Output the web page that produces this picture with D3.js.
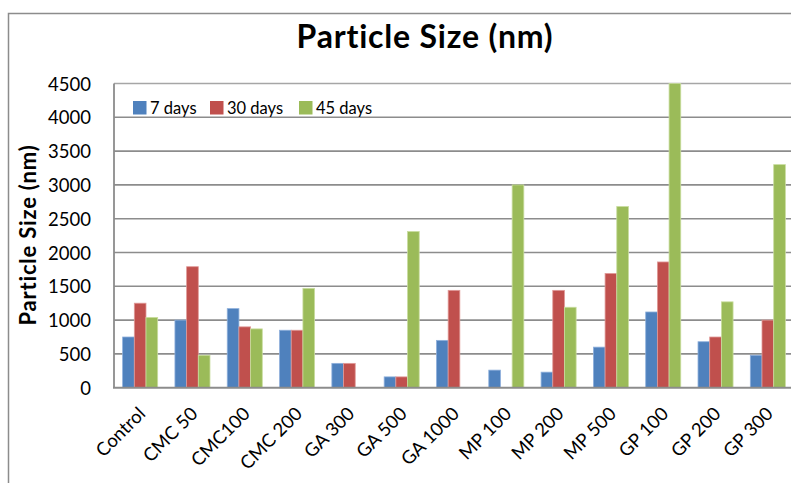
<!DOCTYPE html>
<html>
<head>
<meta charset="utf-8">
<script src="https://cdn.jsdelivr.net/npm/d3@7"></script>
<style>
  html, body { margin: 0; padding: 0; background: #fff; }
  svg { display: block; }
</style>
</head>
<body>
<svg id="chart" width="791" height="483"></svg>
<script>
// Particle size of each formulation after storage
const categories = ["Control", "CMC 50", "CMC100", "CMC 200", "GA 300", "GA 500", "GA 1000",
                    "MP 100", "MP 200", "MP 500", "GP 100", "GP 200", "GP 300"];
const seriesNames = ["7 days", "30 days", "45 days"];
const days7  = [750, 1000, 1170, 850, 360, 160, 700, 260, 230, 600, 1120, 680, 480];
const days30 = [1250, 1790, 900, 850, 360, 160, 1440, 0, 1440, 1690, 1860, 750, 1000];
const days45 = [1040, 480, 870, 1470, 0, 2310, 0, 3000, 1190, 2680, 4500, 1270, 3300];
const yTicks = [0, 500, 1000, 1500, 2000, 2500, 3000, 3500, 4000, 4500];
const colors = ["#4F81BD", "#C0504D", "#9BBB59"];
const edges  = ["#8fb0dc", "#e09a98", "#c9dd9f"];

const seriesValues = [days7, days30, days45];
const rows = categories.map((c, i) => ({
  cat: c,
  vals: seriesNames.map((s, k) => ({ key: s, k, value: seriesValues[k][i] }))
}));

const svg = d3.select("#chart");
const font = "Lato, 'Open Sans', sans-serif";

// outer chart frame
svg.append("rect")
  .attr("x", 8.5).attr("y", 13.5).attr("width", 800).attr("height", 500)
  .attr("fill", "#fff").attr("stroke", "#8c8c8c").attr("stroke-width", 1.5);

const plot = { left: 114, top: 83.5, right: 794, bottom: 387.7 };

const x = d3.scaleBand().domain(categories)
  .range([plot.left, plot.right]).paddingInner(0.33).paddingOuter(0.165);
const xs = d3.scaleBand().domain(seriesNames).range([0, x.bandwidth()]);
const y = d3.scaleLinear().domain([0, 4500]).range([plot.bottom, plot.top]);

// horizontal gridlines
svg.append("g").selectAll("line").data(yTicks.filter(t => t > 0)).join("line")
  .attr("x1", plot.left).attr("x2", 791)
  .attr("y1", d => y(d)).attr("y2", d => y(d))
  .attr("stroke", d => d === 4500 ? "#a6a6a6" : "#8c8c8c")
  .attr("stroke-width", 1.6);

// y axis tick labels
const yAxis = d3.axisLeft(y).tickValues(yTicks).tickFormat(d3.format("d"))
  .tickSize(0).tickPadding(0);
const gy = svg.append("g").attr("transform", `translate(${91},0)`).call(yAxis);
gy.select(".domain").remove();
gy.selectAll("text")
  .attr("font-family", font).attr("font-size", 18.5).attr("fill", "#000")
  .attr("dy", "0.36em");

// bars
const groups = svg.append("g").selectAll("g").data(rows).join("g")
  .attr("transform", d => `translate(${x(d.cat)},0)`);
groups.selectAll("rect").data(d => d.vals.filter(v => v.value > 0)).join("rect")
  .attr("x", d => xs(d.key))
  .attr("width", xs.bandwidth())
  .attr("y", d => y(d.value))
  .attr("height", d => y(0) - y(d.value))
  .attr("fill", d => colors[d.k])
  .attr("stroke", d => edges[d.k])
  .attr("stroke-width", 0.8);

// axis lines
svg.append("line")
  .attr("x1", plot.left).attr("x2", plot.left)
  .attr("y1", plot.top).attr("y2", plot.bottom)
  .attr("stroke", "#8c8c8c").attr("stroke-width", 1.8);
svg.append("line")
  .attr("x1", plot.left - 1).attr("x2", 791)
  .attr("y1", plot.bottom).attr("y2", plot.bottom)
  .attr("stroke", "#8c8c8c").attr("stroke-width", 2);

// category labels, rotated
const xAxis = d3.axisBottom(x).tickSize(0).tickPadding(0);
const gx = svg.append("g").attr("transform", `translate(0,${plot.bottom})`).call(xAxis);
gx.select(".domain").remove();
gx.selectAll("text")
  .attr("font-family", font).attr("font-size", 18.5).attr("fill", "#000")
  .attr("text-anchor", "end")
  .attr("dy", null).attr("y", 0)
  .attr("transform", "translate(3,24) rotate(-45)")
  .attr("dominant-baseline", "middle");

// chart title
svg.append("text")
  .attr("x", 425).attr("y", 48)
  .attr("text-anchor", "middle")
  .attr("font-family", font).attr("font-weight", 700).attr("font-size", 32)
  .attr("letter-spacing", 0.8)
  .attr("fill", "#000")
  .text("Particle Size (nm)");

// y axis title
svg.append("text")
  .attr("transform", "translate(36,235) rotate(-90)")
  .attr("text-anchor", "middle")
  .attr("font-family", font).attr("font-weight", 700).attr("font-size", 22)
  .attr("letter-spacing", 0.8)
  .attr("fill", "#000")
  .text("Particle Size (nm)");

// legend
const legendX = [133, 210, 299];
const legend = svg.append("g").selectAll("g").data(seriesNames).join("g")
  .attr("transform", (d, i) => `translate(${legendX[i]},101)`);
legend.append("rect")
  .attr("width", 13.5).attr("height", 13.5)
  .attr("fill", (d, i) => colors[i]);
legend.append("text")
  .attr("x", 17).attr("y", 7).attr("dy", "0.36em")
  .attr("font-family", font).attr("font-size", 16.5).attr("fill", "#000")
  .text(d => d);
</script>
</body>
</html>
